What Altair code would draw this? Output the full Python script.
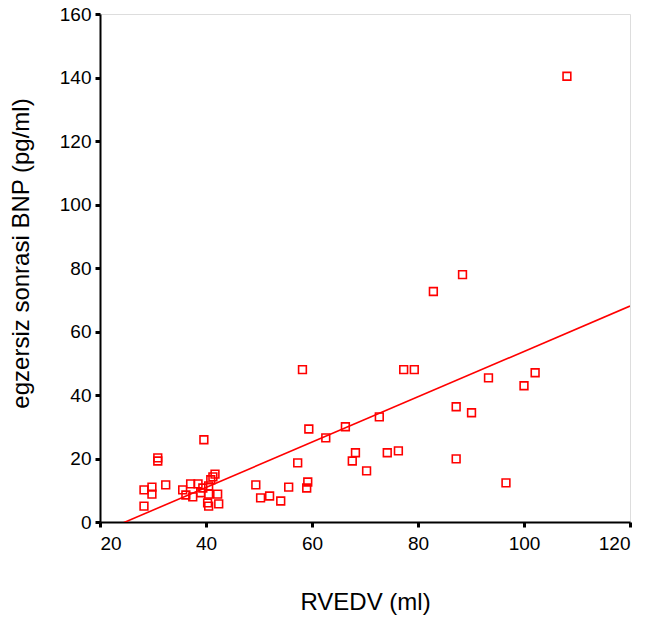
import altair as alt
import pandas as pd

rvedv = [108.1, 82.9, 88.4, 58.2, 77.3, 79.3, 93.3, 102.1, 100.0, 87.2,
         90.1, 59.4, 66.3, 62.6, 72.7, 57.3, 67.6, 68.2, 74.2, 76.3,
         70.3, 87.2, 96.6, 59.2, 59.0, 49.4, 55.6, 50.3, 52.0, 54.1,
         39.6, 30.9, 30.9, 28.3, 29.8, 29.8, 28.3, 32.4, 35.6, 36.2,
         37.5, 37.1, 38.5, 39.4, 39.0, 40.5, 41.3, 41.7, 40.9, 42.2,
         40.5, 40.3, 40.5, 42.4]
bnp = [140.4, 72.6, 77.9, 48.0, 48.0, 48.0, 45.4, 47.0, 42.9, 36.3,
       34.4, 29.3, 30.0, 26.5, 33.1, 18.6, 19.2, 21.8, 21.8, 22.4,
       16.1, 19.9, 12.3, 12.6, 10.7, 11.7, 11.0, 7.6, 8.2, 6.6,
       25.9, 20.2, 19.2, 10.1, 11.0, 8.8, 5.0, 11.7, 10.1, 8.5,
       7.9, 12.0, 12.0, 10.7, 9.2, 11.4, 14.2, 15.1, 13.3, 8.8,
       8.8, 6.0, 5.0, 5.7]

x_ticks = [20, 40, 60, 80, 100, 120]
y_ticks = [0, 20, 40, 60, 80, 100, 120, 140, 160]

df = pd.DataFrame({"RVEDV": rvedv, "BNP": bnp})

FONT = "Liberation Sans"

x_enc = alt.X("RVEDV:Q",
              scale=alt.Scale(domain=[20, 120], nice=False, zero=False),
              axis=alt.Axis(title="RVEDV (ml)", values=x_ticks, grid=False,
                            tickSize=5, tickWidth=3, tickColor="black",
                            domainColor="black", domainWidth=2,
                            labelFontSize=19, labelPadding=7, labelColor="black",
                            labelFont=FONT, titleFont=FONT, titleFontSize=24,
                            titleFontWeight="normal", titleColor="black",
                            titleBaseline="middle", titleY=80))
y_enc = alt.Y("BNP:Q",
              scale=alt.Scale(domain=[0, 160], nice=False),
              axis=alt.Axis(title="egzersiz sonrasi BNP (pg/ml)", values=y_ticks, grid=False,
                            tickSize=5, tickWidth=3, tickColor="black",
                            domainColor="black", domainWidth=2,
                            labelFontSize=19, labelPadding=4, labelColor="black",
                            labelFont=FONT, titleFont=FONT, titleFontSize=24,
                            titleFontWeight="normal", titleColor="black",
                            titleAngle=270, titleBaseline="middle", titleAlign="center",
                            titleX=-79, titleY=239))

points = alt.Chart(df).mark_point(shape="square", filled=False, color="#FF0000",
                                  size=60, strokeWidth=1.6, opacity=1).encode(x=x_enc, y=y_enc)

fit = alt.Chart(df).transform_regression("RVEDV", "BNP", extent=[20, 120]).mark_line(
    color="#FF0000", strokeWidth=1.6, clip=True).encode(x="RVEDV:Q", y="BNP:Q")

chart = alt.layer(points, fit).properties(
    width=530, height=508,
    autosize=alt.AutoSizeParams(type="none"),
    padding={"left": 92, "top": 6, "right": 10, "bottom": 100},
).configure_view(stroke="black", strokeWidth=1.5).configure(background="white")

chart.save("out.html", embed_options={"renderer": "svg", "actions": False})
